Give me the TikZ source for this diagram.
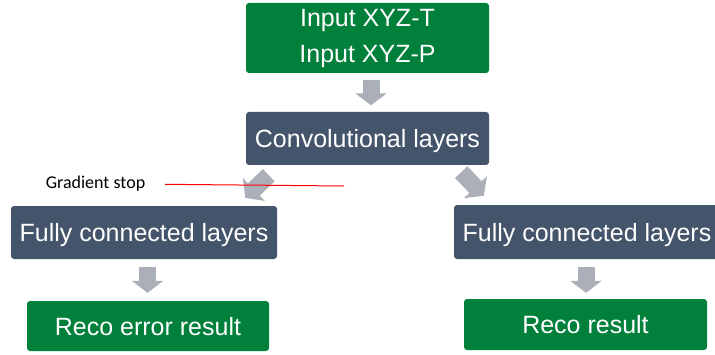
\documentclass[tikz,border=0pt]{standalone}
\usepackage{fontspec}
\setmainfont{Liberation Sans}
\newfontfamily\calfont{Carlito}
\usetikzlibrary{arrows.meta, positioning}

\definecolor{boxgreen}{HTML}{00803A}
\definecolor{boxslate}{HTML}{44546A}
\definecolor{arrowgray}{HTML}{ABAFB8}

\begin{document}
\begin{tikzpicture}[x=1pt,y=1pt,font=\fontsize{25}{37}\selectfont]
  \tikzstyle{greenbox}=[fill=boxgreen,text=white,rounded corners=3pt,inner sep=0pt,align=center]
  \tikzstyle{slatebox}=[fill=boxslate,text=white,rounded corners=3pt,inner sep=0pt,align=center]
  \tikzstyle{oneline}=[text height=18pt,text depth=0pt]
  \tikzstyle{fat}=[arrowgray,line width=17pt,-{Triangle[width=31pt,length=12pt]}]

  \useasboundingbox (0,0) rectangle (715,354);

  % boxes
  \node[greenbox, minimum width=243pt, minimum height=70pt] (input) at (367.5,316) {Input XYZ-T\\[-1pt]Input XYZ-P};
  \node[slatebox, oneline, minimum width=243pt, minimum height=53pt] (conv) at (367.5,215.5) {Convolutional layers};
  \node[slatebox, oneline, minimum width=266pt, minimum height=53pt] (fcl) at (144,121.5) {Fully connected layers};
  \node[slatebox, oneline, minimum width=266pt, minimum height=54pt] (fcr) at (587,122) {Fully connected layers};
  \node[greenbox, oneline, minimum width=242pt, minimum height=50pt] (errres) at (148,28) {Reco error result};
  \node[greenbox, oneline, minimum width=243pt, minimum height=51pt] (res) at (585.5,29.5) {Reco result};

  % block arrows
  \draw[fat] ([shift={(3.5,-7)}]input.south) -- ([shift={(3.5,6.5)}]conv.north);
  \draw[fat] ([shift={(23,-10)}]conv.south west) -- ([shift={(-32,8)}]fcl.north east);
  \draw[fat] ([shift={(-28,-7)}]conv.south east) -- ([shift={(30,9)}]fcr.north west);
  \draw[fat] ([shift={(3.5,-8)}]fcl.south) -- ([shift={(-0.5,8)}]errres.north);
  \draw[fat] ([shift={(-1,-8)}]fcr.south) -- ([shift={(0.5,6)}]res.north);

  % gradient stop
  \node[font=\calfont\fontsize{18}{20}\selectfont, inner sep=0pt] (gstop) at (95.5,170) {Gradient stop};
  \coordinate (cut1) at (165,169.7);
  \coordinate (cut2) at (344,168);
  \draw[red, line width=1pt] (cut1) -- (cut2);
\end{tikzpicture}
\end{document}
